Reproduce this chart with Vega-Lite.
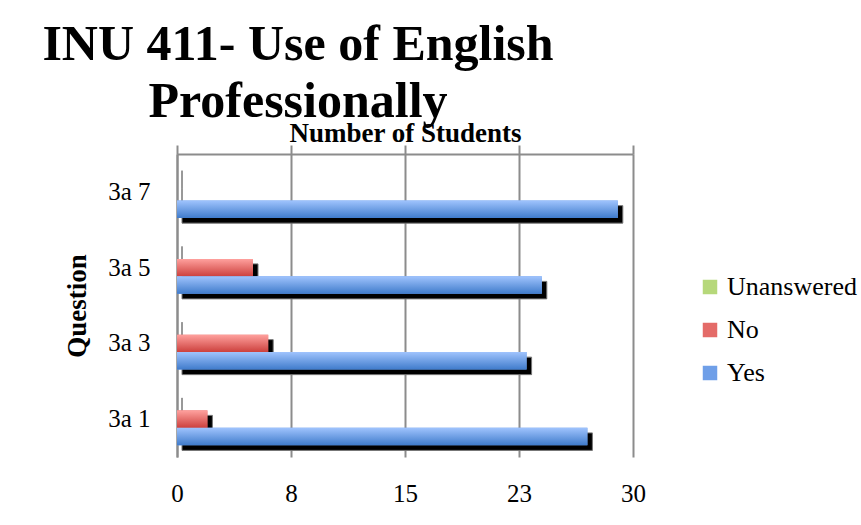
{
  "$schema": "https://vega.github.io/schema/vega-lite/v6.json",
  "width": 456,
  "height": 303,
  "autosize": {"type": "none"},
  "padding": {"left": 177, "top": 154, "right": 228, "bottom": 68},
  "background": "white",
  "config": {
    "font": "Liberation Serif",
    "view": {"stroke": null}
  },
  "title": {
    "text": ["INU 411- Use of English", "Professionally"],
    "font": "Liberation Serif",
    "fontSize": 50,
    "fontWeight": "bold",
    "lineHeight": 57,
    "anchor": "middle",
    "frame": "group",
    "dx": -107,
    "dy": 12,
    "color": "black",
    "offset": 4
  },
  "data": {
    "values": [
      {"question": "3a 1", "answer": "Unanswered", "count": 0},
      {"question": "3a 1", "answer": "No", "count": 2},
      {"question": "3a 1", "answer": "Yes", "count": 27},
      {"question": "3a 3", "answer": "Unanswered", "count": 0},
      {"question": "3a 3", "answer": "No", "count": 6},
      {"question": "3a 3", "answer": "Yes", "count": 23},
      {"question": "3a 5", "answer": "Unanswered", "count": 0},
      {"question": "3a 5", "answer": "No", "count": 5},
      {"question": "3a 5", "answer": "Yes", "count": 24},
      {"question": "3a 7", "answer": "Unanswered", "count": 0},
      {"question": "3a 7", "answer": "No", "count": 0},
      {"question": "3a 7", "answer": "Yes", "count": 29}
    ]
  },
  "encoding": {
    "y": {
      "field": "question",
      "type": "nominal",
      "sort": ["3a 7", "3a 5", "3a 3", "3a 1"],
      "scale": {"paddingInner": 0.307, "paddingOuter": 0.1535},
      "axis": {
        "title": "Question",
        "titleFont": "Liberation Serif",
        "titleFontSize": 27,
        "titleFontWeight": "bold",
        "titleColor": "black",
        "titlePadding": 16,
        "labelFont": "Liberation Serif",
        "labelFontSize": 25,
        "labelColor": "black",
        "labelPadding": 27,
        "ticks": false,
        "domain": true,
        "domainColor": "#8c8c8c",
        "domainWidth": 2,
        "grid": false
      }
    },
    "x": {
      "field": "count",
      "type": "quantitative",
      "scale": {"domain": [0, 30], "nice": false, "zero": true}
    }
  },
  "resolve": {"axis": {"x": "independent"}, "scale": {"yOffset": "independent"}},
  "layer": [
    {
      "mark": {"type": "bar", "fill": "black", "stroke": "#777777", "strokeWidth": 1, "xOffset": 5},
      "encoding": {
        "yOffset": {
          "field": "answer",
          "type": "nominal",
          "sort": ["Unanswered", "No", "Yes"],
          "scale": {"paddingInner": 0, "paddingOuter": 0, "range": [5, 57.5]}
        },
        "x": {
          "field": "count",
          "type": "quantitative",
          "axis": {
            "orient": "top",
            "title": "Number of Students",
            "titleFont": "Liberation Serif",
            "titleFontSize": 27,
            "titleFontWeight": "bold",
            "titleColor": "black",
            "titlePadding": -3,
            "values": [0, 7.5, 15, 22.5, 30],
            "labels": false,
            "ticks": true,
            "tickSize": 9,
            "tickWidth": 2,
            "tickColor": "#8c8c8c",
            "domain": true,
            "domainColor": "#8c8c8c",
            "domainWidth": 2,
            "grid": false
          }
        }
      }
    },
    {
      "mark": {"type": "bar"},
      "encoding": {
        "yOffset": {
          "field": "answer",
          "type": "nominal",
          "sort": ["Unanswered", "No", "Yes"],
          "scale": {"paddingInner": 0, "paddingOuter": 0}
        },
        "x": {
          "field": "count",
          "type": "quantitative",
          "axis": {
            "orient": "bottom",
            "title": null,
            "values": [0, 7.5, 15, 22.5, 30],
            "labelExpr": "format(round(datum.value), 'd')",
            "labelFlush": false,
            "labelOverlap": false,
            "labelFont": "Liberation Serif",
            "labelFontSize": 25,
            "labelColor": "black",
            "labelPadding": 24,
            "ticks": false,
            "domain": false,
            "grid": true,
            "gridColor": "#8c8c8c",
            "gridWidth": 2
          }
        },
        "color": {
          "field": "answer",
          "type": "nominal",
          "sort": ["Unanswered", "No", "Yes"],
          "scale": {"domain": ["Unanswered", "No", "Yes"], "range": ["#b6d87a", "#e46b68", "#6f9fe8"]},
          "legend": {
            "orient": "none",
            "legendX": 520,
            "legendY": 120,
            "title": null,
            "padding": 0,
            "symbolType": "square",
            "symbolSize": 210,
            "symbolStrokeWidth": 0,
            "labelFont": "Liberation Serif",
            "labelFontSize": 26,
            "labelColor": "black",
            "labelOffset": 4,
            "rowPadding": 17,
            "labelLimit": 300
          }
        }
      }
    },
    {
      "mark": {"type": "bar"},
      "encoding": {
        "yOffset": {
          "field": "answer",
          "type": "nominal",
          "sort": ["Unanswered", "No", "Yes"],
          "scale": {"paddingInner": 0, "paddingOuter": 0}
        },
        "x": {"field": "count", "type": "quantitative", "axis": null},
        "color": {
          "condition": [
            {"test": "datum.answer === 'Yes'", "value": {"gradient": "linear", "x1": 0, "y1": 0, "x2": 0, "y2": 1, "stops": [{"offset": 0, "color": "#9fc3fd"}, {"offset": 1, "color": "#3f7bcb"}]}},
            {"test": "datum.answer === 'No'", "value": {"gradient": "linear", "x1": 0, "y1": 0, "x2": 0, "y2": 1, "stops": [{"offset": 0, "color": "#ffa19e"}, {"offset": 1, "color": "#cc403d"}]}}
          ],
          "value": {"gradient": "linear", "x1": 0, "y1": 0, "x2": 0, "y2": 1, "stops": [{"offset": 0, "color": "#d9f4a6"}, {"offset": 1, "color": "#98ba56"}]}
        }
      }
    }
  ]
}
